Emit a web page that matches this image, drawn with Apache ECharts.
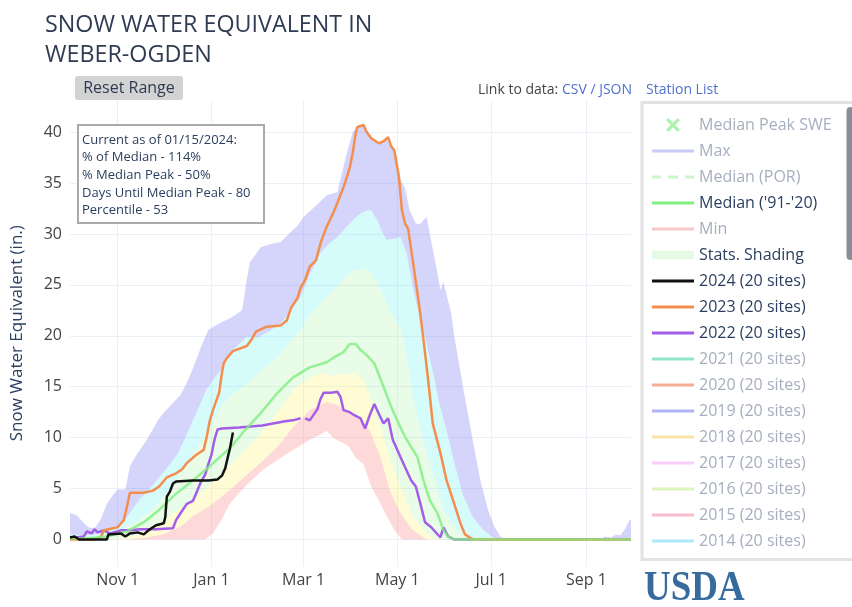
<!DOCTYPE html>
<html>
<head>
<meta charset="utf-8">
<title>Snow Water Equivalent in Weber-Ogden</title>
<script src="https://cdn.jsdelivr.net/npm/echarts/dist/echarts.min.js"></script>
<style>
  html, body { margin: 0; padding: 0; background: #fff; }
  #main { width: 852px; height: 607px; }
</style>
</head>
<body>
<div id="main"></div>
<script>
// x = day of the water year (0 = Oct 1, 2023), y = SWE in inches
var tickDays = [31, 92, 152, 213, 274, 336];
var tickLabels = ['Nov 1', 'Jan 1', 'Mar 1', 'May 1', 'Jul 1', 'Sep 1'];
var yTicks = [0, 5, 10, 15, 20, 25, 30, 35, 40];

// statistics (period of record)
var maxSwe = [[0,2.6],[4,2.4],[8,1.8],[12,1.2],[16,1.1],[20,2.0],[24,3.5],[28,4.4],[31,4.9],[36,4.9],[39,7.2],[44,8.5],[50,9.8],[58,11.9],[63,12.8],[67,13.4],[72,14.2],[76,15.4],[80,16.8],[85,18.8],[90,20.6],[97,21.2],[105,21.8],[112,22.5],[115,25.5],[117,27.2],[124,28.7],[130,29.0],[137,29.2],[143,30.1],[148,30.8],[152,31.7],[158,32.5],[163,33.2],[167,33.8],[174,34.1],[177,36.0],[180,37.9],[184,40.0],[187,40.5],[191,40.7],[193,40.0],[198,39.2],[201,38.9],[204,39.1],[207,39.5],[209,38.8],[211,38.4],[213,36.5],[215,35.3],[218,34.5],[221,32.3],[225,31.0],[228,31.0],[232,31.7],[234,30.1],[239,26.2],[241,24.5],[243,25.3],[248,22.2],[250,20.0],[256,14.7],[262,9.8],[267,5.8],[272,2.9],[276,1.3],[280,0.3],[284,0],[345,0],[348,0.3],[352,0.2],[355,0.5],[358,0.4],[361,1.0],[364,1.9],[365,2.0]];
var p90 = [[0,0.5],[10,0.4],[20,0.6],[28,1.0],[35,1.8],[40,2.8],[45,3.9],[52,5.0],[58,6.1],[64,7.2],[70,8.4],[75,10.0],[80,11.7],[85,13.4],[89,14.8],[94,15.8],[98,16.6],[102,17.6],[106,18.6],[115,19.9],[122,19.8],[130,20.5],[137,21.2],[144,22.5],[150,23.8],[156,26.0],[163,28.1],[168,29.0],[174,29.7],[180,30.7],[185,31.5],[189,32.0],[193,32.3],[196,32.3],[200,31.3],[203,30.2],[206,29.4],[210,29.5],[215,29.7],[219,28.1],[223,24.8],[228,21.5],[230,20.6],[233,18.5],[236,16.5],[240,13.5],[245,10.7],[250,7.5],[256,4.2],[262,2.2],[269,0.9],[277,0],[365,0]];
var p70 = [[0,0.2],[15,0.2],[25,0.5],[35,1.0],[45,1.9],[55,3.2],[65,5.0],[75,7.2],[85,9.6],[92,11.2],[98,13.0],[106,14.3],[115,15.3],[124,16.5],[133,17.6],[143,19.4],[150,20.6],[156,22.0],[163,23.2],[168,24.0],[174,24.8],[180,26.0],[185,26.4],[190,26.6],[195,26.4],[202,24.5],[208,22.5],[213,21.2],[216,20.4],[220,17.0],[223,14.0],[228,10.8],[234,7.5],[239,5.0],[244,2.6],[250,1.3],[256,0.5],[262,0],[365,0]];
var medianSwe = [[0,0.1],[10,0.1],[24,0.3],[37,0.8],[48,1.7],[58,2.9],[69,4.5],[80,5.8],[91,7.2],[102,8.7],[106,9.3],[113,10.6],[124,12.4],[135,14.4],[145,15.9],[156,16.9],[167,17.4],[172,17.9],[178,18.4],[182,19.2],[186,19.2],[189,18.6],[193,18.1],[198,17.3],[204,15.0],[209,13.0],[215,11.0],[219,9.8],[226,8.1],[230,5.8],[234,3.9],[239,2.6],[243,0.9],[246,0.3],[250,0],[365,0]];
var p30 = [[0,0],[35,0.1],[45,0.5],[55,1.3],[65,2.3],[75,3.4],[85,4.6],[92,5.5],[102,7.0],[113,8.6],[124,10.4],[135,12.5],[145,14.6],[155,15.8],[163,16.3],[170,16.1],[177,16.2],[185,16.3],[191,15.6],[196,13.7],[202,11.0],[209,7.5],[216,4.8],[223,2.2],[232,0.6],[239,0],[365,0]];
var p10 = [[0,0],[37,0],[50,0.2],[60,0.5],[70,1.1],[75,1.6],[80,2.3],[91,3.3],[102,4.6],[113,6.1],[124,7.5],[135,9.1],[145,11.0],[156,12.7],[167,13.5],[174,13.2],[182,12.4],[189,11.7],[195,10.7],[202,8.1],[208,4.8],[215,2.6],[223,0.9],[232,0],[365,0]];
var minSwe = [[0,0],[88,0],[93,0.6],[98,1.8],[104,3.5],[110,4.6],[118,5.8],[126,6.9],[135,7.8],[145,8.8],[156,9.8],[163,10.3],[167,10.7],[171,10.0],[176,9.6],[181,9.2],[186,8.0],[191,7.4],[196,5.2],[201,3.8],[205,2.6],[211,0.9],[216,0],[365,0]];

// water years
var wy2024 = [[0,0.2],[3,0.3],[6,0],[24,0],[25,0.5],[33,0.6],[36,0.3],[39,0.6],[44,0.7],[48,0.5],[51,0.9],[53,1.1],[56,1.4],[61,1.6],[62,2.2],[63,4.2],[65,4.7],[67,5.5],[69,5.7],[80,5.8],[90,5.8],[96,5.9],[99,6.3],[101,7.0],[103,8.3],[104,8.9],[106,10.5]];
var wy2023 = [[0,0],[15,0],[20,0.2],[22,0.9],[31,1.2],[35,1.9],[37,3.2],[39,4.6],[48,4.6],[54,4.8],[58,5.2],[63,6.1],[69,6.5],[73,6.9],[76,7.5],[82,8.3],[87,8.8],[89,10.1],[91,11.7],[93,12.7],[97,14.4],[99,16.5],[100,17.3],[102,17.8],[106,18.5],[115,19.0],[118,19.6],[121,20.4],[128,20.9],[137,21.0],[141,21.5],[144,22.8],[148,23.7],[150,24.7],[153,25.5],[156,26.8],[160,27.4],[163,29.1],[167,30.7],[172,32.3],[178,34.6],[180,35.5],[182,36.5],[184,38.0],[186,40.0],[187,40.5],[191,40.7],[193,40.0],[196,39.4],[198,39.2],[201,38.9],[204,39.1],[207,39.5],[209,38.6],[211,38.2],[213,36.5],[214,35.6],[216,32.3],[218,31.0],[220,30.5],[223,27.4],[227,23.2],[230,19.6],[233,15.7],[236,11.4],[241,8.5],[245,5.8],[250,3.5],[254,1.6],[257,0.5],[261,0.1],[263,0],[365,0]];
var wy2022 = [[0,0.1],[9,0.3],[11,0.8],[14,0.6],[16,1.0],[18,0.7],[22,0.9],[26,0.6],[33,0.9],[39,0.9],[46,1.0],[56,1.0],[67,1.1],[69,1.9],[72,2.6],[76,3.5],[80,3.8],[82,4.5],[85,5.6],[88,6.4],[90,7.4],[92,8.3],[94,9.8],[96,10.8],[99,10.9],[110,11.0],[125,11.2],[140,11.6],[145,11.7],[150,11.9],[151,'-'],[153,11.9],[156,11.7],[161,12.8],[163,13.8],[165,14.4],[170,14.4],[174,14.5],[176,14.0],[178,12.7],[182,12.5],[185,12.2],[189,11.9],[192,10.9],[195,12.2],[198,13.3],[202,12.0],[204,11.4],[207,11.9],[210,9.8],[215,8.1],[218,7.1],[222,5.8],[225,5.2],[228,3.5],[231,1.7],[235,1.2],[241,0.2],[243,1.2],[246,0.3],[250,0],[365,0]];

var infoLines = [
  'Current as of 01/15/2024:',
  '% of Median - 114%',
  '% Median Peak - 50%',
  'Days Until Median Peak - 80',
  'Percentile - 53'
];

var FONT = 'Open Sans';
var DARK = '#2a3f5f';
var FADED = '#a6aebe';
var crossPath = 'path://M0,2L2,0L6,4L10,0L12,2L8,6L12,10L10,12L6,8L2,12L0,10L4,6Z';
var lineIcon = 'path://M0,0h42v3h-42z';
var dashIcon = 'path://M0,0h9v3h-9zM16,0h10v3h-10zM33,0h9v3h-9z';

// shaded band between two curves, drawn through the axes
function band(lower, upper, fill) {
  return {
    type: 'custom', name: 'Stats. Shading', silent: true, z: 1,
    itemStyle: { color: '#e5fae5' },
    data: [[0, 0]],
    renderItem: function (params, api) {
      var pts = upper.map(function (p) { return api.coord(p); });
      for (var i = lower.length - 1; i >= 0; i--) pts.push(api.coord(lower[i]));
      return { type: 'polygon', shape: { points: pts }, style: { fill: fill } };
    }
  };
}

function emptyLine(name, color) {
  return {
    type: 'line', name: name, data: [], symbol: 'none',
    itemStyle: { color: color },
    lineStyle: { color: color, width: 3 }
  };
}

function yearLine(name, data, color, z) {
  return {
    type: 'line', name: name, data: data, symbol: 'none', showSymbol: false, z: z,
    itemStyle: { color: color },
    lineStyle: { color: color, width: 2.5 }
  };
}

function legendLine(name, color, active, icon) {
  var item = { name: name, icon: icon || lineIcon, itemStyle: { color: color } };
  if (!active) item.textStyle = { color: FADED };
  return item;
}

var legendItems = [
  { name: 'Median Peak SWE', icon: crossPath, itemStyle: { color: '#9cee9c' }, textStyle: { color: FADED } },
  legendLine('Max', '#cacaf7', false),
  legendLine('Median (POR)', '#cdf5cd', false, dashIcon),
  legendLine("Median ('91-'20)", '#80ee80', true),
  legendLine('Min', '#f6c8c8', false),
  { name: 'Stats. Shading', icon: 'path://M0,0h40v8h-40z', itemStyle: { color: '#e5fae5' } },
  legendLine('2024 (20 sites)', '#111111', true),
  legendLine('2023 (20 sites)', '#f28f4e', true),
  legendLine('2022 (20 sites)', '#a45de8', true),
  legendLine('2021 (20 sites)', '#92e6c8', false),
  legendLine('2020 (20 sites)', '#f5ad96', false),
  legendLine('2019 (20 sites)', '#b0b4f5', false),
  legendLine('2018 (20 sites)', '#f9e3a6', false),
  legendLine('2017 (20 sites)', '#f8cdf8', false),
  legendLine('2016 (20 sites)', '#dcf4bd', false),
  legendLine('2015 (20 sites)', '#f7bccb', false),
  legendLine('2014 (20 sites)', '#ade9f7', false)
];

var chart = echarts.init(document.getElementById('main'));
chart.setOption({
  animation: false,
  textStyle: { fontFamily: FONT },
  grid: { left: 70, right: 221, top: 100, bottom: 40.5 },
  xAxis: {
    type: 'value', min: 0, max: 365,
    axisLine: { show: false },
    axisTick: { show: false, customValues: tickDays },
    axisLabel: {
      customValues: tickDays, fontSize: 16, color: '#444', margin: 6, fontFamily: FONT,
      formatter: function (v) { return tickLabels[tickDays.indexOf(v)]; }
    },
    splitLine: { show: true, lineStyle: { color: '#ebf0f8', width: 1 } }
  },
  yAxis: {
    type: 'value', min: -2.65, max: 43.15,
    name: 'Snow Water Equivalent (in.)', nameLocation: 'middle', nameGap: 44,
    nameTextStyle: { fontSize: 17, color: DARK, fontFamily: FONT },
    axisLine: { show: false },
    axisTick: { show: false, customValues: yTicks },
    axisLabel: { customValues: yTicks, fontSize: 16, color: '#444', margin: 8, fontFamily: FONT },
    splitLine: { show: true, lineStyle: { color: '#ebf0f8', width: 1 } }
  },
  legend: {
    orient: 'vertical', left: 652, top: 117, padding: 0,
    itemWidth: 42, itemHeight: 14, itemGap: 10, selectedMode: false,
    textStyle: { fontSize: 16, lineHeight: 16, color: DARK, fontFamily: FONT },
    data: legendItems
  },
  graphic: [
    { type: 'text', x: 45, y: 10, style: { text: 'SNOW WATER EQUIVALENT IN\nWEBER-OGDEN', fontSize: 23.3, fontFamily: FONT, fill: '#2f3b52', lineHeight: 30, verticalAlign: 'top' } },
    { type: 'rect', shape: { x: 75, y: 76, width: 108, height: 24, r: 3 }, style: { fill: '#d3d3d3' } },
    { type: 'text', x: 129, y: 88, style: { text: 'Reset Range', fontSize: 16, fontFamily: FONT, fill: '#2f3b52', align: 'center', verticalAlign: 'middle' } },
    { type: 'text', x: 478, y: 90, style: { text: 'Link to data: {l|CSV / JSON}', fontSize: 14, fontFamily: FONT, fill: '#444', verticalAlign: 'middle', rich: { l: { fill: '#4f72cf', fontSize: 14, fontFamily: FONT } } } },
    { type: 'text', x: 646, y: 90, style: { text: 'Station List', fontSize: 14, fontFamily: FONT, fill: '#4f72cf', verticalAlign: 'middle' } },
    { type: 'rect', z: 100, shape: { x: 78, y: 125, width: 186, height: 98 }, style: { fill: '#fff', stroke: '#aaaaaa', lineWidth: 2 } },
    { type: 'text', z: 101, x: 82, y: 131.2, style: { text: infoLines.join('\n'), fontSize: 13, fontFamily: FONT, fill: DARK, lineHeight: 17.6, verticalAlign: 'top' } },
    { type: 'rect', z: 0, shape: { x: 642, y: 102.5, width: 230, height: 457 }, style: { fill: '#fff', stroke: '#e2e2e2', lineWidth: 3 } },
    { type: 'rect', z: 10, shape: { x: 846.5, y: 107, width: 8, height: 153, r: 4 }, style: { fill: '#878e9a' } },
    { type: 'text', x: 644, y: 589, scaleX: 0.88, style: { text: 'USDA', fontSize: 42, fontFamily: 'Liberation Serif', fontWeight: 'bold', fill: '#386b9d', verticalAlign: 'middle' } }
  ],
  series: [
    band(p90, maxSwe, 'rgba(100,100,240,0.27)'),
    band(p70, p90, 'rgba(100,240,240,0.27)'),
    band(p30, p70, 'rgba(140,240,140,0.2)'),
    band(p10, p30, 'rgba(250,240,100,0.27)'),
    band(minSwe, p10, 'rgba(250,130,130,0.3)'),
    { type: 'scatter', name: 'Median Peak SWE', data: [], symbol: crossPath, symbolSize: 12, itemStyle: { color: '#9cee9c' } },
    emptyLine('Max', '#cacaf7'),
    emptyLine('Median (POR)', '#cdf5cd'),
    emptyLine('Min', '#f6c8c8'),
    yearLine('2022 (20 sites)', wy2022, '#a45de8', 2),
    yearLine('2023 (20 sites)', wy2023, '#f28f4e', 2),
    {
      type: 'line', name: "Median ('91-'20)", data: medianSwe, symbol: 'none', showSymbol: false, z: 2,
      itemStyle: { color: '#80ee80' },
      lineStyle: { color: '#80ee80', width: 2.5, opacity: 0.8 }
    },
    yearLine('2024 (20 sites)', wy2024, '#111111', 3),
    emptyLine('2021 (20 sites)', '#92e6c8'),
    emptyLine('2020 (20 sites)', '#f5ad96'),
    emptyLine('2019 (20 sites)', '#b0b4f5'),
    emptyLine('2018 (20 sites)', '#f9e3a6'),
    emptyLine('2017 (20 sites)', '#f8cdf8'),
    emptyLine('2016 (20 sites)', '#dcf4bd'),
    emptyLine('2015 (20 sites)', '#f7bccb'),
    emptyLine('2014 (20 sites)', '#ade9f7')
  ]
});
</script>
</body>
</html>
